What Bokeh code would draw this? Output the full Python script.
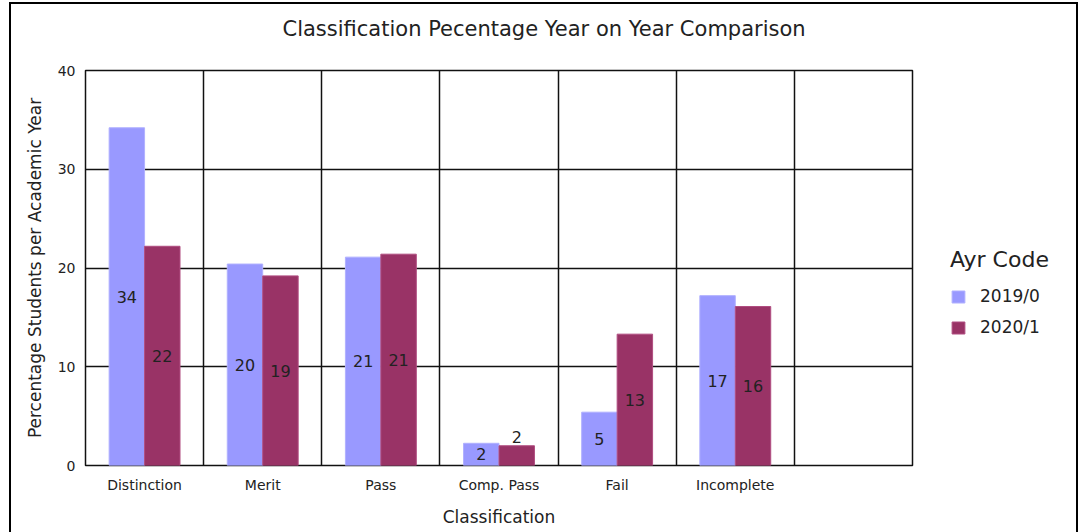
import numpy as np
from bokeh.plotting import figure
from bokeh.models import (ColumnDataSource, FixedTicker, Legend, LegendItem, Range1d, Title,
                          InlineStyleSheet)
from bokeh.core.properties import value
from bokeh.embed import file_html
from bokeh.resources import INLINE

# ---- data ----
categories = ["Distinction", "Merit", "Pass", "Comp. Pass", "Fail", "Incomplete"]
series_names = ["2019/0", "2020/1"]
values_2019 = [34.2, 20.4, 21.1, 2.25, 5.4, 17.2]
values_2020 = [22.2, 19.2, 21.4, 2.0, 13.3, 16.1]
y_ticks = [0, 10, 20, 30, 40]
title_text = "Classification Pecentage Year on Year Comparison"
x_title = "Classification"
y_title = "Percentage Students per Academic Year"
legend_title = "Ayr Code"

FONT = "DejaVu Sans"
TXT = "#222222"
C19, C20 = "#9999FF", "#993366"
n_slots = len(categories) + 1
bw = 0.3

idx = np.arange(len(categories))
centers = idx + 0.5

clamp = InlineStyleSheet(css=":host { width: 1065px !important; max-width: 1065px !important;"
                             " overflow: hidden !important; }")

p = figure(frame_width=827, height=528, x_range=Range1d(0, n_slots), y_range=Range1d(0, 40),
           output_backend="svg", toolbar_location=None, title=None,
           min_border_left=74, min_border_right=164, min_border_top=66, min_border_bottom=69,
           margin=(2, 3, 0, 9),
           styles={"box-sizing": "content-box",
                   "border-top": "2px solid #000", "border-left": "2px solid #000",
                   "border-right": "2px solid #000"},
           stylesheets=[clamp])
p.background_fill_color = "white"
p.border_fill_color = "white"
p.outline_line_color = "#111111"
p.outline_line_width = 1.5

src19 = ColumnDataSource(dict(x=centers - bw / 2, top=values_2019))
src20 = ColumnDataSource(dict(x=centers + bw / 2, top=values_2020))

r19 = p.vbar(x="x", top="top", bottom=0, width=bw, source=src19,
             fill_color=C19, line_color="#b0b0ff", line_width=1)
r20 = p.vbar(x="x", top="top", bottom=0, width=bw, source=src20,
             fill_color=C20, line_color="#b04d80", line_width=1)

# value labels: inside at mid-height, above the bar when too short
thr = 2.1
for xs, vals in ((centers - bw / 2, values_2019), (centers + bw / 2, values_2020)):
    inside = [(x, v) for x, v in zip(xs, vals) if v >= thr]
    above = [(x, v) for x, v in zip(xs, vals) if v < thr]
    if inside:
        p.text(x=[a[0] for a in inside], y=[a[1] / 2 for a in inside],
               text=[f"{a[1]:.0f}" for a in inside],
               text_font=value(FONT), text_font_size="16px", text_color=TXT,
               text_align="center", text_baseline="middle")
    if above:
        p.text(x=[a[0] for a in above], y=[a[1] for a in above],
               text=[f"{a[1]:.0f}" for a in above], y_offset=-3,
               text_font=value(FONT), text_font_size="16px", text_color=TXT,
               text_align="center", text_baseline="bottom")

# axes
p.xaxis.ticker = FixedTicker(ticks=list(centers))
p.xaxis.major_label_overrides = {float(c): name for c, name in zip(centers, categories)}
p.yaxis.ticker = FixedTicker(ticks=y_ticks)
for ax in (p.xaxis[0], p.yaxis[0]):
    ax.axis_line_color = None
    ax.major_tick_line_color = None
    ax.minor_tick_line_color = None
    ax.major_tick_out = 0
    ax.major_tick_in = 0
    ax.minor_tick_out = 0
    ax.minor_tick_in = 0
    ax.major_label_text_font = FONT
    ax.major_label_text_color = TXT
    ax.major_label_text_font_size = "14px"
    ax.axis_label_text_font = FONT
    ax.axis_label_text_font_size = "17px"
    ax.axis_label_text_font_style = "normal"
    ax.axis_label_text_color = TXT
p.xaxis.axis_label = x_title
p.yaxis.axis_label = y_title
p.xaxis.major_label_standoff = 11
p.xaxis.axis_label_standoff = 11
p.yaxis.major_label_standoff = 10
p.yaxis.axis_label_standoff = 10

# grid
p.xgrid.ticker = FixedTicker(ticks=list(range(n_slots + 1)))
for g in (p.xgrid[0], p.ygrid[0]):
    g.grid_line_color = "#111111"
    g.grid_line_width = 1.5

# title (a blank spacer line keeps it clear of the plot area)
p.add_layout(Title(text=" ", text_font=FONT, text_font_size="20px", standoff=0), "above")
p.add_layout(Title(text=title_text, align="left", offset=197, standoff=8,
                   text_font=FONT, text_font_size="21px", text_color=TXT,
                   text_font_style="normal"), "above")

legend = Legend(items=[LegendItem(label=series_names[0], renderers=[r19]),
                       LegendItem(label=series_names[1], renderers=[r20])],
                location=(38, 128), title=legend_title)
legend.title_text_font = FONT
legend.title_text_font_size = "22px"
legend.title_text_font_style = "normal"
legend.title_text_color = TXT
legend.title_standoff = 14
legend.label_text_font = FONT
legend.label_text_font_size = "17px"
legend.label_text_color = TXT
legend.glyph_width = 16
legend.glyph_height = 15
legend.label_standoff = 14
legend.spacing = 11
legend.padding = 0
legend.margin = 0
legend.border_line_color = None
legend.background_fill_alpha = 0
p.add_layout(legend, "right")

open("out.html", "w").write(file_html(p, INLINE))
